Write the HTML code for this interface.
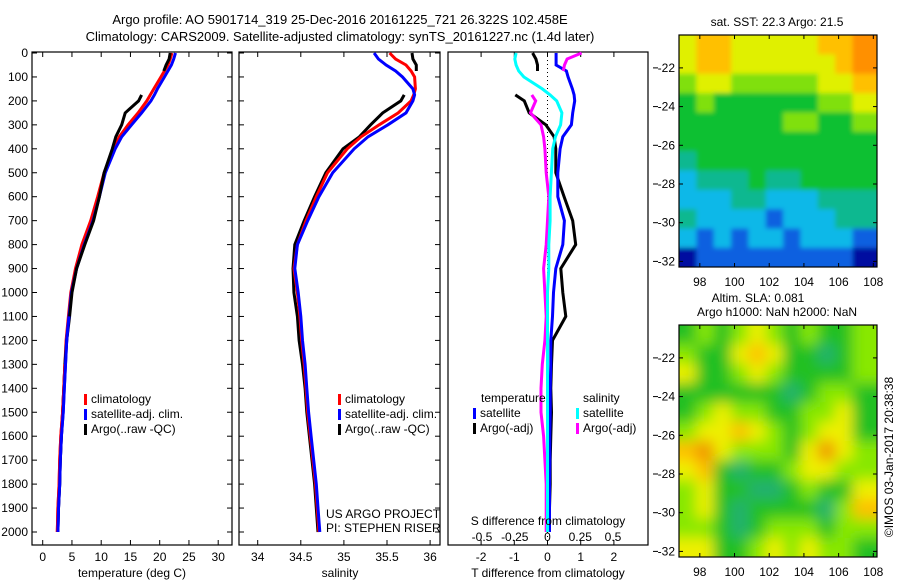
<!DOCTYPE html>
<html><head><meta charset="utf-8">
<style>
html,body{margin:0;padding:0;background:#fff;}
svg{display:block;font-family:"Liberation Sans",sans-serif;}
</style></head>
<body>
<svg id="c" width="900" height="580" viewBox="0 0 900 580" xmlns="http://www.w3.org/2000/svg">
<defs>
<filter id="blur" x="0" y="0" width="1" height="1"><feGaussianBlur stdDeviation="7"/></filter>
<filter id="blur2" x="0" y="0" width="1" height="1"><feGaussianBlur stdDeviation="2.5"/></filter>
<clipPath id="clipSla"><rect x="679" y="325" width="198" height="232"/></clipPath>
<clipPath id="clipSst"><rect x="679" y="35" width="198" height="232"/></clipPath>
</defs>
<text x="340" y="24" font-size="13" text-anchor="middle">Argo profile: AO 5901714_319 25-Dec-2016 20161225_721 26.322S 102.458E</text>
<text x="340" y="41" font-size="13" text-anchor="middle">Climatology: CARS2009. Satellite-adjusted climatology: synTS_20161227.nc (1.4d later)</text>
<g id="g"></g>
</svg>
<script>
// ---- profile data ----
const depths = [0,25,50,75,100,150,175,200,250,300,350,400,500,600,700,800,900,1000,1100,1200,1300,1400,1500,1600,1700,1800,1900,2000];
const tempClim = [22.1,21.8,21.4,20.8,20.2,19.0,18.4,17.8,16.3,14.6,13.1,12.1,10.5,9.4,8.2,6.7,5.6,4.8,4.4,4.0,3.8,3.6,3.4,3.1,2.9,2.8,2.6,2.5];
const tempSat = [22.7,22.4,22.0,21.4,20.8,19.6,19.1,18.5,16.9,15.2,13.5,12.4,10.7,9.7,8.6,7.1,5.8,4.9,4.5,4.1,3.9,3.7,3.5,3.2,3.0,2.9,2.7,2.6];
const tempArgo = [21.8,21.6,21.1,20.7,null,null,16.9,16.4,14.1,13.5,12.5,11.9,10.5,9.7,8.7,7.2,5.8,5.0,4.6,4.1,3.8,3.6,3.4,3.2,3.0,2.9,2.7,2.6];
const salClim = [35.53,35.60,35.72,35.78,35.82,35.83,35.81,35.78,35.63,35.41,35.20,35.04,34.81,34.68,34.56,34.46,34.42,34.46,34.49,34.51,34.54,34.56,34.58,34.61,34.64,34.67,34.69,34.71];
const salSat = [35.35,35.40,35.49,35.60,35.68,35.80,35.82,35.80,35.72,35.51,35.28,35.12,34.87,34.71,34.58,34.46,34.43,34.47,34.50,34.52,34.55,34.57,34.59,34.62,34.65,34.68,34.70,34.72];
const salArgo = [35.79,35.80,35.84,35.84,null,null,35.70,35.66,35.45,35.31,35.18,34.99,34.79,34.66,34.54,34.43,34.41,34.42,34.46,34.48,34.52,34.55,34.57,34.60,34.63,34.66,34.68,34.70];
const dTSat = [0.26,0.26,0.26,0.57,0.62,0.75,0.80,0.82,0.76,0.72,0.46,0.38,0.31,0.31,0.51,0.46,0.25,0.18,0.15,0.10,0.10,0.08,0.08,0.07,0.07,0.06,0.06,0.06];
const dTArgo = [-0.45,-0.35,-0.30,-0.30,null,null,-0.97,-0.70,-0.55,-0.05,0.20,0.25,0.25,0.50,0.76,0.85,0.40,0.46,0.55,0.15,0.12,0.10,0.12,0.10,0.08,0.08,0.06,0.05];
const dSSat = [-0.24,-0.25,-0.24,-0.22,-0.18,-0.04,0.02,0.07,0.11,0.10,0.06,0.04,0.03,0.02,0.02,0.01,0.01,0.0,0.0,0.0,0.0,0.0,0.0,0.0,0.0,0.0,0.0,0.0];
const dSArgo = [0.26,0.15,0.13,0.12,null,null,-0.12,-0.09,-0.13,-0.05,-0.03,-0.02,-0.01,0.01,0.0,-0.01,-0.03,-0.02,-0.01,-0.02,-0.04,-0.05,-0.05,-0.03,-0.02,-0.01,-0.01,-0.01];
const depthTicks = [0,100,200,300,400,500,600,700,800,900,1000,1100,1200,1300,1400,1500,1600,1700,1800,1900,2000];
const tempTicks = [0,5,10,15,20,25,30];
const salTicks = ["34","34.5","35","35.5","36"];
const dTTicks = [-2,-1,0,1,2];
const dSTicks = ["-0.5","-0.25","0","0.25","0.5"];
// ---- map data (colour levels -1..7) ----
const mapLats = [-20.3,-21.3,-22.3,-23.3,-24.3,-25.3,-26.3,-27.3,-28.3,-29.3,-30.3,-31.3];
const mapLons = [96.8,97.8,98.8,99.8,100.8,101.8,102.8,103.8,104.8,105.8,106.8];
const sstGrid = [
[5,6,6,5,5,5,5,5,6,6,7],
[5,6,6,5,5,5,5,5,5,6,7],
[4,5,5,4,4,4,4,4,5,5,6],
[3,4,3,3,3,3,3,3,4,4,5],
[3,3,3,3,3,3,4,4,3,3,4],
[3,3,3,3,3,3,3,3,3,3,3],
[2,3,3,3,3,3,3,3,3,3,3],
[1,2,2,2,3,2,2,3,3,3,3],
[1,1,1,2,2,1,1,1,2,2,2],
[2,1,1,1,1,0,1,1,1,2,2],
[1,0,1,0,1,1,0,1,1,1,0],
[-1,0,0,0,0,0,0,0,0,0,-1]];
const slaGrid = [
[3,4,3,4,5,4,3,4,3,3,4],
[4,3,3,5,6,5,3,3,2,3,4],
[5,3,3,4,5,4,3,3,3,3,4],
[3,3,3,3,3,3,2,3,4,4,3],
[3,4,5,4,4,3,3,4,4,5,3],
[4,5,5,6,5,4,3,4,5,5,3],
[6,7,5,4,4,4,3,5,7,5,4],
[5,6,3,2,3,3,4,5,5,4,4],
[4,5,3,3,2,2,3,4,3,3,5],
[4,5,3,2,3,3,3,3,2,4,6],
[4,4,3,2,3,4,4,4,3,4,4],
[5,5,3,3,4,5,4,5,4,4,3]];
const latTicks = [-22,-24,-26,-28,-30,-32];
const lonTicks = [98,100,102,104,106,108];

const NS='http://www.w3.org/2000/svg';
const G=document.getElementById('g');
function el(tag,attrs,parent){const e=document.createElementNS(NS,tag);for(const k in attrs)e.setAttribute(k,attrs[k]);(parent||G).appendChild(e);return e;}
function txt(x,y,s,size,anchor,parent){const t=el('text',{x:x,y:y,'font-size':size,'text-anchor':anchor||'middle'},parent);t.textContent=s;return t;}

const yD=d=>53+d*0.2395;
const xT=t=>42.7+t*5.85;
const xS=s=>257.7+(s-34)*86.2;
const xdT=v=>547.5+v*33.2;
const xdS=v=>547.5+v*131;
const PT=52, PB=545;

function panel(x0,x1,name){
  const g=el('g',{});
  
  
  const r=el('rect',{x:x0,y:PT,width:x1-x0,height:PB-PT,fill:'none',stroke:'#000','stroke-width':1.2},g);
  
  
  return g;
}
function line(vals,xf,color,g,name){
  let segs=[],cur=[];
  vals.forEach((v,i)=>{if(v===null){if(cur.length)segs.push(cur);cur=[];}else cur.push(xf(v).toFixed(1)+','+yD(depths[i]).toFixed(1));});
  if(cur.length)segs.push(cur);
  segs.forEach(s=>{
    const p=el('polyline',{points:s.join(' '),fill:'none',stroke:color,'stroke-width':3,'stroke-linejoin':'miter'},g);
    
    
  });
}
function depthTicksOn(g,x0,x1,labels){
  depthTicks.forEach(d=>{
    const y=yD(d);
    el('line',{x1:x0,y1:y,x2:x0+5,y2:y,stroke:'#000'},g);
    el('line',{x1:x1-5,y1:y,x2:x1,y2:y,stroke:'#000'},g);
    if(labels){const t=txt(28,y+4,String(d),12,'end',g);
      
      }
  });
}
function legend(g,x,y,items){
  items.forEach((it,i)=>{
    const yy=y+i*15;
    el('rect',{x:x,y:yy-9,width:3,height:11,fill:it[0]},g);
    const t=txt(x+7,yy,it[1],12,'start',g);
    
    
  });
}

// Panel 1 temperature
const p1=panel(32,232,'temperature-panel');
depthTicksOn(p1,32,232,true);
tempTicks.forEach(t=>{const x=xT(t);el('line',{x1:x,y1:PT,x2:x,y2:PT+5,stroke:'#000'},p1);el('line',{x1:x,y1:PB-5,x2:x,y2:PB,stroke:'#000'},p1);
  const l=txt(x,561,String(t),12,'middle',p1);});
line(tempClim,xT,'#ff0000',p1,'temperature-climatology-line');
line(tempSat,xT,'#0000ff',p1,'temperature-satellite-line');
line(tempArgo,xT,'#000000',p1,'temperature-argo-line');
line(tempClim.map((v,i)=>i>=20?v:null),xT,'#ff0000',p1,'temperature-climatology-line');
line(tempSat.map((v,i)=>i>=18?v:null),xT,'#0000ff',p1,'temperature-satellite-line');
legend(p1,84,403,[['#ff0000','climatology'],['#0000ff','satellite-adj. clim.'],['#000','Argo(..raw -QC)']]);
{const t=txt(132,577,'temperature (deg C)',12,'middle',p1);}

// Panel 2 salinity
const p2=panel(239,440,'salinity-panel');
depthTicksOn(p2,239,440,false);
salTicks.forEach(s=>{const x=xS(parseFloat(s));el('line',{x1:x,y1:PT,x2:x,y2:PT+5,stroke:'#000'},p2);el('line',{x1:x,y1:PB-5,x2:x,y2:PB,stroke:'#000'},p2);
  const l=txt(x,561,s,12,'middle',p2);});
line(salArgo,xS,'#000000',p2,'salinity-argo-line');
line(salClim,xS,'#ff0000',p2,'salinity-climatology-line');
line(salSat,xS,'#0000ff',p2,'salinity-satellite-line');
legend(p2,338,403,[['#ff0000','climatology'],['#0000ff','satellite-adj. clim.'],['#000','Argo(..raw -QC)']]);
{const t=txt(326,518,'US ARGO PROJECT',12,'start',p2);
 const t2=txt(326,532,'PI: STEPHEN RISER',12,'start',p2);
 const t3=txt(340,577,'salinity',12,'middle',p2);}

// Panel 3 differences
const p3=panel(448,648,'difference-panel');
el('line',{x1:547.5,y1:PT,x2:547.5,y2:PB,stroke:'#000','stroke-dasharray':'1,3'},p3);
dTTicks.forEach(v=>{const x=xdT(v);el('line',{x1:x,y1:PT,x2:x,y2:PT+5,stroke:'#000'},p3);el('line',{x1:x,y1:PB-5,x2:x,y2:PB,stroke:'#000'},p3);
  const l=txt(x,561,String(v),12,'middle',p3);});
dSTicks.forEach(s=>{const l=txt(xdS(parseFloat(s)),541,s,12,'middle',p3);});
line(dTArgo,xdT,'#000000',p3,'t-diff-argo-line');
line(dTSat,xdT,'#0000ff',p3,'t-diff-satellite-line');
line(dSArgo,xdS,'#ff00ff',p3,'s-diff-argo-line');
line(dSSat,xdS,'#00ffff',p3,'s-diff-satellite-line');
{const t=txt(481,402,'temperature',12,'start',p3);
 const t2=txt(583,402,'salinity',12,'start',p3);}
legend(p3,473,417,[['#0000ff','satellite'],['#000','Argo(-adj)']]);
legend(p3,576,417,[['#00ffff','satellite'],['#ff00ff','Argo(-adj)']]);
{const t=txt(548,525,'S difference from climatology',12,'middle',p3);
 const t2=txt(548,577,'T difference from climatology',12,'middle',p3);}

// Maps
const sstCols={'-1':'#0010a0','0':'#1060e0','1':'#10b8e8','2':'#10b890','3':'#10c030','4':'#80e010','5':'#e0f000','6':'#ffc000','7':'#ff9000'};
const slaCols={'2':'#20b070','3':'#20c020','4':'#88e800','5':'#eef000','6':'#ffc000','7':'#f09000'};
const MX0=679,MX1=877,cw=(MX1-MX0)/11;
const lonX=lo=>MX0+(lo-96.8)*17.35;
function map(y0,grid,cols,name,blur){
  const g=el('g',{});
  
  
  const clip=el('g',{'clip-path':blur?'url(#clipSla)':'url(#clipSst)'},g);
  const inner=el('g',{filter:blur?'url(#blur)':'url(#blur2)'},clip);
  const latY=la=>y0+(-20.3-la)*19.35;
  grid.forEach((row,i)=>row.forEach((v,j)=>{
    const x=lonX(mapLons[j]),y=latY(mapLats[i]);
    const exL=(j===0?20:0), exR=(j===10?20:0), exT=(i===0?20:0), exB=(i===11?20:0);
    const r=el('rect',{x:x-exL,y:y-exT,width:cw+0.6+exL+exR,height:19.35+0.6+exT+exB,fill:cols[String(v)]},inner);
    
    
  }));
  el('rect',{x:MX0,y:y0,width:MX1-MX0,height:232,fill:'none',stroke:'#000','stroke-width':1.2},g);
  latTicks.forEach(la=>{const y=latY(la);
    el('line',{x1:MX0,y1:y,x2:MX0+4,y2:y,stroke:'#000'},g);el('line',{x1:MX1-4,y1:y,x2:MX1,y2:y,stroke:'#000'},g);
    el('line',{x1:653,y1:y,x2:658,y2:y,stroke:'#000'},g);
    const t=txt(675,y+4,String(la),12,'end',g);});
  lonTicks.forEach(lo=>{const x=lonX(lo);
    el('line',{x1:x,y1:y0,x2:x,y2:y0+4,stroke:'#000'},g);el('line',{x1:x,y1:y0+228,x2:x,y2:y0+232,stroke:'#000'},g);
    const t=txt(x,y0+251,String(lo),12,'middle',g);});
}
map(35,sstGrid,sstCols,'sst-map',false);
map(325,slaGrid,slaCols,'sla-map',true);
{const t=txt(777,26,'sat. SST: 22.3 Argo: 21.5',12,'middle');
 const t2=txt(758,302,'Altim. SLA: 0.081',12,'middle');
 const t3=txt(777,316,'Argo h1000: NaN h2000: NaN',12,'middle');
 const t4=txt(0,0,'©IMOS 03-Jan-2017 20:38:38',12,'middle');t4.setAttribute('transform','translate(893,457) rotate(-90)');
 }
</script>
</body></html>
